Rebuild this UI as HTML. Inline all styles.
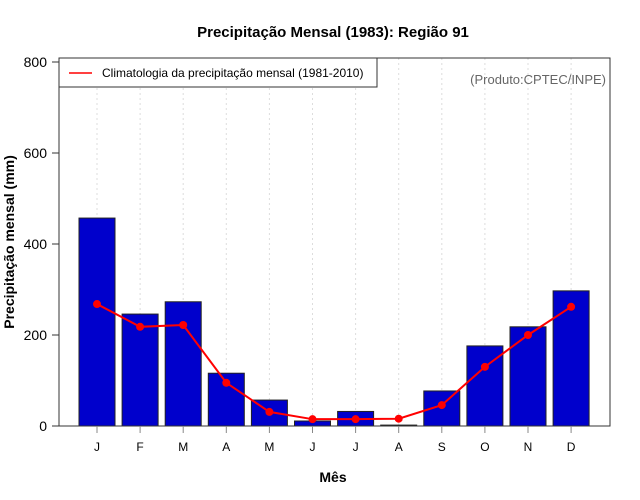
<!DOCTYPE html>
<html><head><meta charset="utf-8"><style>
body{margin:0;background:#fff;}
svg{display:block;font-family:"Liberation Sans",sans-serif;}
</style></head><body>
<svg id="c" width="640" height="500" viewBox="0 0 640 500"></svg>
<script>
const months=["J","F","M","A","M","J","J","A","S","O","N","D"];
const precip=[457,246,273,116,57,11,32,2,77,176,218,297];
const climatology=[268,218,222,95,31,15,15,16,46,130,200,262];
const yTicks=[0,200,400,600,800];
const NS="http://www.w3.org/2000/svg";
const svg=document.getElementById('c');
const L=59,R=610,T=58,B=426;
function y(v){return 426-v*0.455;}
function x(i){return 97+i*43.1;}
function mk(tag,attrs,parent){const e=document.createElementNS(NS,tag);for(const k in attrs)e.setAttribute(k,attrs[k]);(parent||svg).appendChild(e);return e;}
function txt(s,attrs){const e=mk('text',attrs);e.textContent=s;return e;}
let t=txt("Precipitação Mensal (1983): Região 91",{x:333,y:37,'text-anchor':'middle','font-size':15,'font-weight':'bold'});


// grid
months.forEach((m,i)=>{
 const g=mk('line',{x1:x(i),x2:x(i),y1:T,y2:B,stroke:'#ddd','stroke-dasharray':'2,3'});
 
 
});
// bars
precip.forEach((v,i)=>{
 const b=mk('rect',{x:x(i)-18,y:y(v),width:36,height:B-y(v),fill:'#0000cc',stroke:'#222','stroke-width':1});
 
 
});
// line
const pl=mk('polyline',{points:climatology.map((v,i)=>x(i)+','+y(v)).join(' '),fill:'none',stroke:'#ff0000','stroke-width':2});


climatology.forEach((v,i)=>{
 const p=mk('circle',{cx:x(i),cy:y(v),r:4,fill:'#ff0000'});
 
 
});
// frame
const f=mk('rect',{x:L,y:T,width:R-L,height:B-T,fill:'none',stroke:'#333','stroke-width':1});


// y ticks
yTicks.forEach(v=>{
 const l=mk('line',{x1:L-7,x2:L,y1:y(v),y2:y(v),stroke:'#333'});
 
 
 const tt=txt(String(v),{x:L-12,y:y(v)+5,'text-anchor':'end','font-size':14});
 
 
});
// x ticks
months.forEach((m,i)=>{
 const l=mk('line',{x1:x(i),x2:x(i),y1:B,y2:B+7,stroke:'#888'});
 
 
 const tt=txt(m,{x:x(i),y:451,'text-anchor':'middle','font-size':12});
 
 
});
t=txt("Mês",{x:333,y:482,'text-anchor':'middle','font-size':14,'font-weight':'bold'});


t=txt("Precipitação mensal (mm)",{x:0,y:0,transform:'translate(14,242) rotate(-90)','text-anchor':'middle','font-size':14,'font-weight':'bold'});


// legend
const lg=mk('rect',{x:L,y:T,width:318,height:29,fill:'#fff',stroke:'#333'});


const ll=mk('line',{x1:69,x2:92,y1:73,y2:73,stroke:'#ff0000','stroke-width':1.5});


t=txt("Climatologia da precipitação mensal (1981-2010)",{x:102,y:77,'font-size':12});


t=txt("(Produto:CPTEC/INPE)",{x:606,y:84,'text-anchor':'end','font-size':13,fill:'#666'});


</script>
</body></html>
